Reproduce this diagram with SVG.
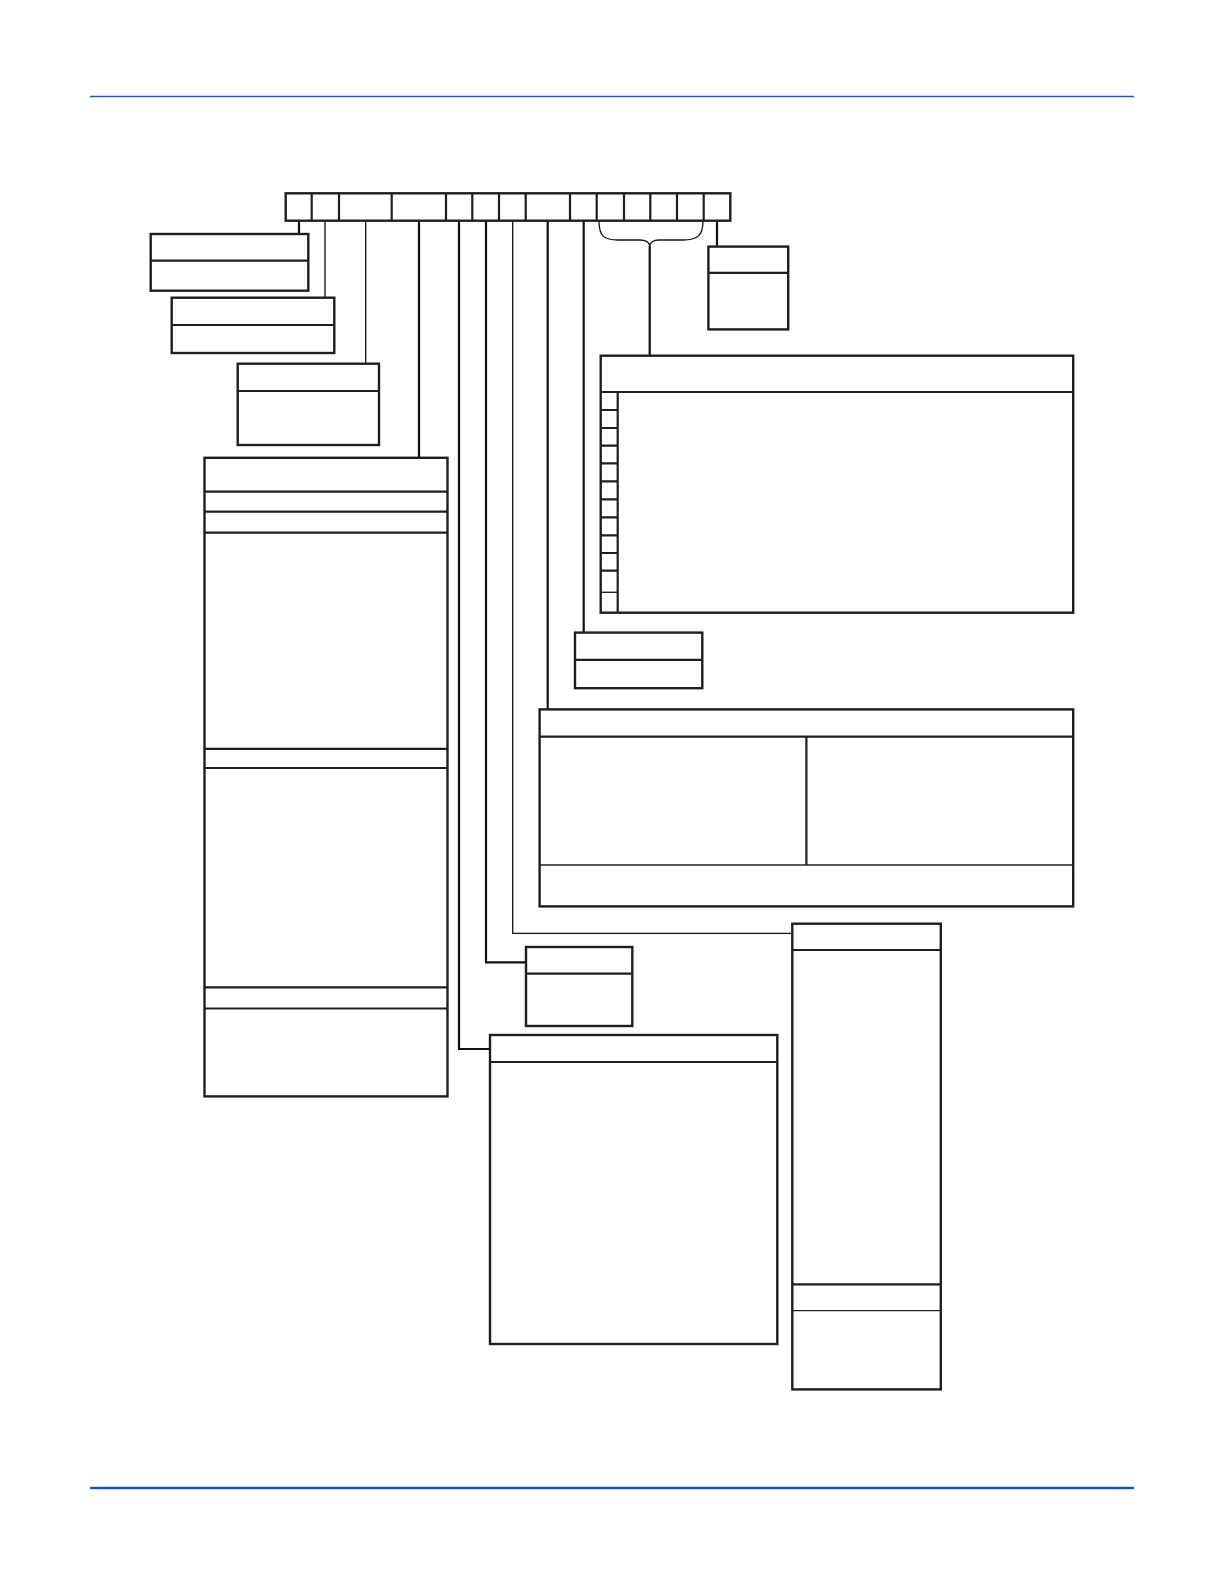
<svg xmlns="http://www.w3.org/2000/svg" width="1224" height="1584" viewBox="0 0 1224 1584">
<style>
.b{fill:#fff;stroke:#1e1e1e;stroke-width:2.4}
.d{fill:none;stroke:#1e1e1e;stroke-width:2.2}
.dt{fill:none;stroke:#222;stroke-width:1.4}
.c{fill:none;stroke:#111;stroke-width:2.2}
.ct{fill:none;stroke:#111;stroke-width:1.3}
</style>
<rect width="1224" height="1584" fill="#fff"/>
<line x1="90" y1="96.5" x2="1134" y2="96.5" stroke="#2a5a9e" stroke-width="1.4"/>
<line x1="90" y1="1488" x2="1134" y2="1488" stroke="#1f55b3" stroke-width="2.6"/>

<g id="connectors">
<path class="c" d="M299 220.7V234"/>
<path class="ct" d="M325 220.7V297.7"/>
<path class="ct" d="M365.7 220.7V363.7"/>
<path class="c" d="M419 220.7V457.8"/>
<path class="c" d="M459 220.7V1049H490"/>
<path class="c" d="M486 220.7V962.3H526"/>
<path class="ct" d="M512.7 220.7V933.3H792"/>
<path class="c" d="M547.7 220.7V709.4"/>
<path class="c" d="M583.7 220.7V632.6"/>
<path class="ct" d="M599 221C599 236 604 240 618 240H640C646 240 649 242 649.7 246C650.4 242 653 240 659 240H683C697 240 703 236 703 221"/>
<path class="c" d="M649.7 246V355.7"/>
<path class="c" d="M717 220.7V246.6"/>
</g>

<g id="code-row">
<rect class="b" x="285.7" y="193.3" width="444.6" height="27.4"/>
<path class="d" d="M311.7 193.3V220.7M339 193.3V220.7M391.7 193.3V220.7M446 193.3V220.7M472.3 193.3V220.7M499 193.3V220.7M525.7 193.3V220.7M570 193.3V220.7M596.7 193.3V220.7M624 193.3V220.7M650.3 193.3V220.7M677 193.3V220.7M703.7 193.3V220.7"/>
</g>

<g id="box1">
<rect class="b" x="150.7" y="234" width="157.6" height="56.7"/>
<path class="d" d="M150.7 260.7H308.3"/>
</g>

<g id="box2">
<rect class="b" x="171.7" y="297.7" width="162.6" height="55.3"/>
<path class="d" d="M171.7 325H334.3"/>
</g>

<g id="box3">
<rect class="b" x="237.7" y="363.7" width="141.3" height="81.3"/>
<path class="d" d="M237.7 391H379"/>
</g>

<g id="box4">
<rect class="b" x="204.5" y="457.8" width="243" height="638.6"/>
<path class="d" d="M204.5 491.7H447.5M204.5 511.7H447.5M204.5 532.7H447.5M204.5 748.8H447.5M204.5 768H447.5M204.5 987.3H447.5M204.5 1008.5H447.5"/>
</g>

<g id="box5">
<rect class="b" x="708.4" y="246.6" width="79.8" height="82.8"/>
<path class="d" d="M708.4 272.8H788.2"/>
</g>

<g id="box6">
<rect class="b" x="600.7" y="355.7" width="472.5" height="257"/>
<path class="d" d="M600.7 392H1073.2M617.7 392V612.7"/>
<path class="d" d="M600.7 410H617.7M600.7 428H617.7M600.7 445.7H617.7M600.7 463.3H617.7M600.7 481.3H617.7M600.7 499.3H617.7M600.7 517.3H617.7M600.7 535.3H617.7M600.7 553H617.7M600.7 570.7H617.7"/>
<path class="dt" d="M600.7 592.3H617.7"/>
</g>

<g id="box7">
<rect class="b" x="575" y="632.6" width="127.3" height="55.6"/>
<path class="d" d="M575 659.9H702.3"/>
</g>

<g id="box8">
<rect class="b" x="539.6" y="709.4" width="533.6" height="197"/>
<path class="d" d="M539.6 736.7H1073.2M806.4 736.7V865"/>
<path class="dt" d="M539.6 865H1073.2"/>
</g>

<g id="box9">
<rect class="b" x="792.3" y="923.7" width="148.5" height="465.7"/>
<path class="d" d="M792.3 950H940.8M792.3 1284.3H940.8"/>
<path class="dt" d="M792.3 1310.6H940.8"/>
</g>

<g id="box10">
<rect class="b" x="526" y="947" width="106.3" height="79"/>
<path class="d" d="M526 973.7H632.3"/>
</g>

<g id="box11">
<rect class="b" x="490" y="1035" width="287.3" height="309"/>
<path class="d" d="M490 1062H777.3"/>
</g>
</svg>
